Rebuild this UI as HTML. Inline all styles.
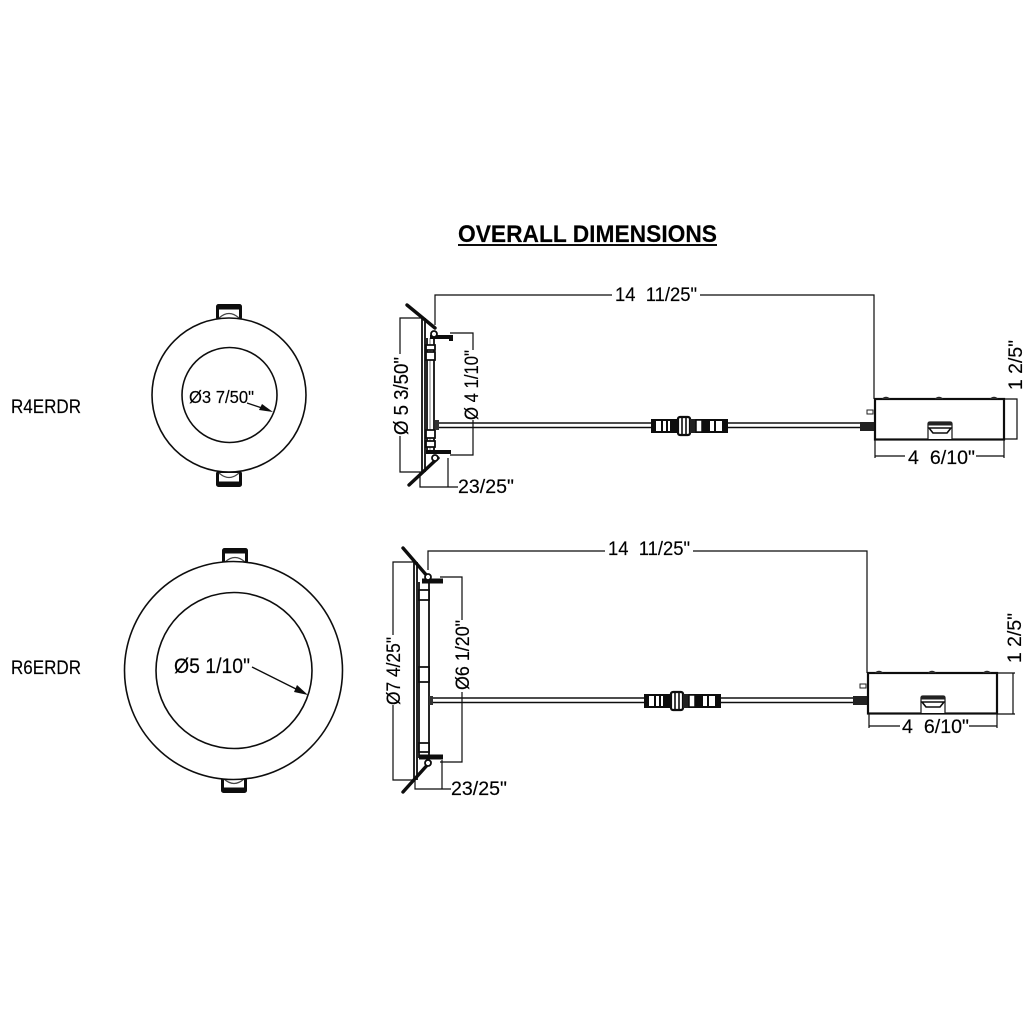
<!DOCTYPE html>
<html><head><meta charset="utf-8"><style>
html,body{margin:0;padding:0;background:#fff}
svg{display:block}
text{font-family:"Liberation Sans",sans-serif;fill:#000;stroke:#000;stroke-width:.15}
</style></head><body>
<svg width="1024" height="1024" viewBox="0 0 1024 1024" xmlns="http://www.w3.org/2000/svg">
<defs>
<filter id="s" x="-5%" y="-5%" width="110%" height="110%"><feGaussianBlur stdDeviation="0.3"/></filter>
<g id="tab">
<rect x="1.5" y="1.5" width="23" height="13" rx="1" fill="#fff" stroke="#111" stroke-width="3"/>
<rect x="1" y="1" width="24" height="4.5" fill="#111"/>
<path d="M3 14 Q13 5 23 14" fill="#fff" stroke="#444" stroke-width="1.2"/>
</g>
<g id="conn">
<rect x="0" y="0" width="75" height="12" fill="#fff" stroke="#111" stroke-width="2"/>
<path d="M0 0h4v12h-4zM9 0h2v12h-2zM14 0h2v12h-2zM18 0h7v12h-7zM50 0h8v12h-8zM62 0h2v12h-2zM70 0h5v12h-5z" fill="#111"/>
<rect x="26" y="-3" width="12" height="18" rx="2" fill="#fff" stroke="#111" stroke-width="2.2"/>
<path d="M30-3v18M34-3v18" stroke="#111" stroke-width="1.6"/>
<rect x="38" y="-1" width="6" height="14" fill="#222"/>
<rect x="44" y="0" width="6" height="12" fill="#fff" stroke="#111" stroke-width="1.5"/>
</g>
<g id="box">
<rect x="0" y="0" width="129" height="40.5" fill="#fff" stroke="#111" stroke-width="2.2"/>
<path d="M7 0q4-3.5 8 0M60 0q4-3.5 8 0M115 0q4-3.5 8 0" fill="#333" stroke="#222"/>
<path d="M53 40V25q0-2 2-2h20q2 0 2 2V40" fill="#fff" stroke="#222" stroke-width="1.3"/>
<rect x="53" y="23" width="24" height="3.5" fill="#222"/>
<path d="M54 29h22l-4 5h-14z" fill="#fff" stroke="#111" stroke-width="1.6"/>
<rect x="-15" y="23" width="14" height="9" fill="#222"/>
<path d="M-8 11h6v4h-6z" fill="#fff" stroke="#222"/>
</g>
</defs>
<rect width="1024" height="1024" fill="#fff"/>
<g filter="url(#s)">

<!-- title -->
<text x="458" y="242" font-size="24" font-weight="700" textLength="259" lengthAdjust="spacingAndGlyphs">OVERALL DIMENSIONS</text>
<rect x="458" y="244" width="259" height="2" fill="#111"/>

<text x="11" y="413" font-size="19.5" textLength="70" lengthAdjust="spacingAndGlyphs">R4ERDR</text>
<text x="11" y="674" font-size="19.5" textLength="70" lengthAdjust="spacingAndGlyphs">R6ERDR</text>

<!-- circle 1 -->
<use href="#tab" x="216" y="304"/>
<g transform="translate(216 487) scale(1 -1)"><use href="#tab"/></g>
<circle cx="229" cy="395" r="77" fill="#fff" stroke="#111" stroke-width="1.6"/>
<circle cx="229.5" cy="395" r="47.5" fill="#fff" stroke="#111" stroke-width="1.6"/>
<text x="189" y="403" font-size="17.5" textLength="65" lengthAdjust="spacingAndGlyphs">Ø3 7/50"</text>
<path d="M247 403L262 408" stroke="#111" stroke-width="1.3"/>
<path d="M273 412L259 410L262 404z" fill="#111"/>

<!-- circle 2 -->
<use href="#tab" x="222" y="548"/>
<g transform="translate(221 793) scale(1 -1)"><use href="#tab"/></g>
<circle cx="233.5" cy="670.5" r="109" fill="#fff" stroke="#111" stroke-width="1.6"/>
<circle cx="234" cy="670.5" r="78" fill="#fff" stroke="#111" stroke-width="1.6"/>
<text x="174" y="673" font-size="21" textLength="76" lengthAdjust="spacingAndGlyphs">Ø5 1/10"</text>
<path d="M252 667L298 690" stroke="#111" stroke-width="1.4"/>
<path d="M308 695L294 692L297 685z" fill="#111"/>

<!-- side 1 -->
<g fill="none" stroke="#111">
<path d="M407 305L435 328" stroke-width="3.4" stroke-linecap="round"/>
<path d="M409 485L438 458" stroke-width="3.4" stroke-linecap="round"/>
<path d="M422 318V472M425 318V472" stroke-width="1.8"/>
<path d="M427 338V450M434 338V452" stroke-width="1.8"/>
<path d="M430 338V450" stroke-width="1" stroke="#777"/>
<path d="M426 345h9v5h-9zM426 352h9v8h-9zM426 430h9v8h-9zM426 441h9v6h-9z" fill="#fff" stroke-width="1.8"/>
<path d="M430 337H451V341" stroke-width="4"/>
<path d="M426 452H451" stroke-width="4"/>
<circle cx="434" cy="334" r="3" fill="#fff" stroke-width="1.8"/>
<circle cx="435" cy="458" r="3" fill="#fff" stroke-width="1.8"/>
<path d="M438 423H652M438 427.5H652M727 423H860M727 427.5H860" stroke-width="1.6"/>
</g>
<rect x="435" y="420" width="4" height="10" fill="#333"/>
<use href="#conn" x="652" y="420"/>
<use href="#box" x="875" y="399"/>

<g fill="none" stroke="#111" stroke-width="1.2">
<path d="M435 325V295H874V399"/>
<path d="M423 318H400V354M400 436V472H423"/>
<path d="M450 333H473V350M473 420V455H450"/>
<path d="M420 472V487H458M448 458V487"/>
<path d="M1004 399H1017V439H1004"/>
<path d="M875 439V458M1004 439V458M875 456H905M976 456H1004"/>
</g>
<rect x="612" y="288" width="88" height="14" fill="#fff"/>
<text x="615" y="301" font-size="19" textLength="82" lengthAdjust="spacingAndGlyphs" xml:space="preserve">14  11/25"</text>
<text x="458" y="493" font-size="19" textLength="56" lengthAdjust="spacingAndGlyphs">23/25"</text>
<text x="908" y="464" font-size="19" textLength="67" lengthAdjust="spacingAndGlyphs" xml:space="preserve">4  6/10"</text>
<text transform="translate(408 435) rotate(-90)" font-size="20" textLength="78" lengthAdjust="spacingAndGlyphs">Ø 5 3/50"</text>
<text transform="translate(478 420) rotate(-90)" font-size="19" textLength="70" lengthAdjust="spacingAndGlyphs">Ø 4 1/10"</text>
<text transform="translate(1022 390) rotate(-90)" font-size="19" textLength="50" lengthAdjust="spacingAndGlyphs">1 2/5"</text>

<!-- side 2 -->
<g fill="none" stroke="#111">
<path d="M403 548L428 577" stroke-width="3.4" stroke-linecap="round"/>
<path d="M403 792L430 762" stroke-width="3.4" stroke-linecap="round"/>
<path d="M414 562V780M417 562V780" stroke-width="1.8"/>
<path d="M419 582V758M429 582V758" stroke-width="1.8"/>
<path d="M419 590h10v10h-10zM419 667h10v15h-10zM419 743h10v9h-10z" fill="#fff" stroke-width="1.8"/>
<path d="M422 581H443" stroke-width="5"/>
<path d="M419 757H443" stroke-width="5"/>
<circle cx="428" cy="577" r="3" fill="#fff" stroke-width="1.8"/>
<circle cx="428" cy="763" r="3" fill="#fff" stroke-width="1.8"/>
<path d="M433 698H645M433 702.5H645M720 698H853M720 702.5H853" stroke-width="1.6"/>
</g>
<rect x="429" y="696" width="4" height="9" fill="#333"/>
<use href="#conn" x="645" y="695"/>
<use href="#box" x="868" y="673"/>

<g fill="none" stroke="#111" stroke-width="1.2">
<path d="M428 570V551H867V673"/>
<path d="M414 562H393V635M393 705V780H414"/>
<path d="M440 577H462V620M462 692V762H440"/>
<path d="M415 780V789H451M442 760V789"/>
<path d="M997 673H1015M1013 673V714M997 714H1015"/>
<path d="M869 714V728M997 714V728M869 726H900M969 726H997"/>
</g>
<rect x="605" y="544" width="88" height="14" fill="#fff"/>
<text x="608" y="555" font-size="19" textLength="82" lengthAdjust="spacingAndGlyphs" xml:space="preserve">14  11/25"</text>
<text x="451" y="795" font-size="19" textLength="56" lengthAdjust="spacingAndGlyphs">23/25"</text>
<text x="902" y="733" font-size="19" textLength="67" lengthAdjust="spacingAndGlyphs" xml:space="preserve">4  6/10"</text>
<text transform="translate(400 705) rotate(-90)" font-size="19" textLength="68" lengthAdjust="spacingAndGlyphs">Ø7 4/25"</text>
<text transform="translate(469 690) rotate(-90)" font-size="19" textLength="70" lengthAdjust="spacingAndGlyphs">Ø6 1/20"</text>
<text transform="translate(1021 663) rotate(-90)" font-size="19" textLength="50" lengthAdjust="spacingAndGlyphs">1 2/5"</text>

</g>
</svg>
</body></html>
